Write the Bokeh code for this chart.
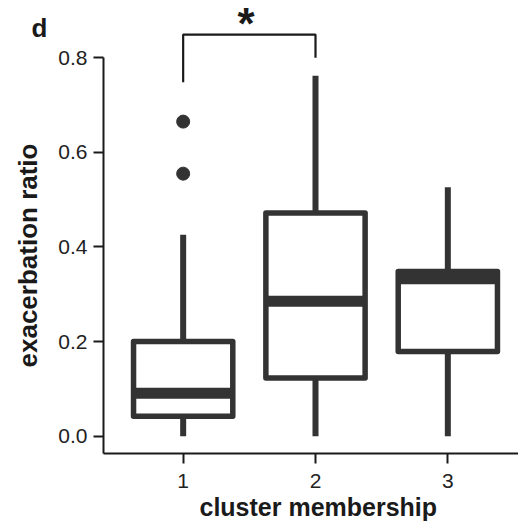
from bokeh.plotting import figure
from bokeh.models import Range1d, FixedTicker, LinearAxis, Title, ColumnDataSource
from bokeh.embed import file_html
from bokeh.resources import INLINE
from bokeh.core.properties import value

# ---- data ----
clusters = [1, 2, 3]
whisker_low = [0.0, 0.0, 0.0]
q1 = [0.042, 0.123, 0.179]
median = [0.091, 0.285, 0.333]
q3 = [0.200, 0.472, 0.348]
whisker_high = [0.426, 0.762, 0.526]
outlier_cluster = [1, 1]
outlier_value = [0.555, 0.665]
y_ticks = [0.0, 0.2, 0.4, 0.6, 0.8]
y_tick_labels = ["0.0", "0.2", "0.4", "0.6", "0.8"]
x_tick_labels = ["1", "2", "3"]
sig_pair = [1, 2]
sig_bar = 0.849
sig_feet = [0.748, 0.800]
sig_mark = "*"
panel_letter = "d"
x_title = "cluster membership"
y_title = "exacerbation ratio"

# ---- style ----
FONT = "Liberation Sans"
BOX = "#333333"
INK = "#1a1a1a"
half = 0.375

x_lo, x_hi = 0.398, 3.534
y_lo, y_hi = -0.0366, 0.921
letter_y = 0.862

p = figure(width=518, height=528, x_range=Range1d(x_lo, x_hi), y_range=Range1d(y_lo, y_hi),
           output_backend="svg", toolbar_location=None,
           min_border_left=103, min_border_right=0, min_border_top=0, min_border_bottom=75)
p.grid.visible = False
p.outline_line_color = None
p.background_fill_color = "white"
p.border_fill_color = "white"

src = ColumnDataSource(dict(
    x=clusters, left=[c - half for c in clusters], right=[c + half for c in clusters],
    lo=whisker_low, q1=q1, med=median, q3=q3, hi=whisker_high))

# whiskers
p.segment(x0="x", y0="lo", x1="x", y1="q1", source=src, line_color=BOX, line_width=6, line_cap="butt")
p.segment(x0="x", y0="q3", x1="x", y1="hi", source=src, line_color=BOX, line_width=6, line_cap="butt")
# boxes
p.quad(left="left", right="right", bottom="q1", top="q3", source=src,
       fill_color="white", line_color=BOX, line_width=5.5, line_join="round")
# medians
p.segment(x0="left", y0="med", x1="right", y1="med", source=src, line_color=BOX, line_width=11, line_cap="butt")
# outliers
p.scatter(x=outlier_cluster, y=outlier_value, size=13, marker="circle",
          fill_color=BOX, line_color=BOX)

# significance bracket
p.line(x=[sig_pair[0], sig_pair[0], sig_pair[1], sig_pair[1]],
       y=[sig_feet[0], sig_bar, sig_bar, sig_feet[1]], line_color=INK, line_width=2.2)
p.text(x=[sum(sig_pair) / 2 - 0.025], y=[sig_bar + 0.0225], text=[sig_mark],
       text_font=value(FONT), text_font_style="bold", text_font_size="44px",
       text_align="center", text_baseline="alphabetic", text_color=INK)

# axes
def style_axis(ax):
    ax.axis_line_width = 2
    ax.axis_line_color = INK
    ax.major_tick_line_width = 2
    ax.major_tick_line_color = INK
    ax.major_tick_out = 10
    ax.major_tick_in = 0
    ax.minor_tick_line_color = None
    ax.major_label_text_font = FONT
    ax.major_label_text_color = "#222222"
    ax.major_label_text_font_size = "21px"

style_axis(p.xaxis[0])
style_axis(p.yaxis[0])

p.xaxis.ticker = FixedTicker(ticks=clusters)
p.xaxis.major_label_overrides = dict(zip(clusters, x_tick_labels))
p.xaxis.major_label_standoff = 10

p.yaxis.ticker = FixedTicker(ticks=y_ticks)
p.yaxis.major_label_overrides = dict(zip(y_ticks, y_tick_labels))
p.yaxis.bounds = (y_lo, y_ticks[-1])
p.yaxis.major_label_standoff = 6

# panel letter "d" as a bare extra axis label at the top left
letter_axis = LinearAxis(ticker=FixedTicker(ticks=[letter_y]),
                         major_label_overrides={letter_y: panel_letter})
letter_axis.axis_line_color = None
letter_axis.major_tick_line_color = None
letter_axis.minor_tick_line_color = None
letter_axis.major_tick_out = 0
letter_axis.major_tick_in = 0
letter_axis.major_label_standoff = 8
letter_axis.major_label_text_font = FONT
letter_axis.major_label_text_font_style = "bold"
letter_axis.major_label_text_font_size = "26px"
letter_axis.major_label_text_color = INK
p.add_layout(letter_axis, "left")

# axis titles
p.add_layout(Title(text=y_title, align="left", offset=86, standoff=-29,
                   text_font=FONT, text_font_style="bold", text_font_size="26px",
                   text_color=INK), "left")
p.add_layout(Title(text=x_title, align="left", offset=96, standoff=0,
                   text_font=FONT, text_font_style="bold", text_font_size="25px",
                   text_color=INK), "below")

open("out.html", "w").write(file_html(p, INLINE))
